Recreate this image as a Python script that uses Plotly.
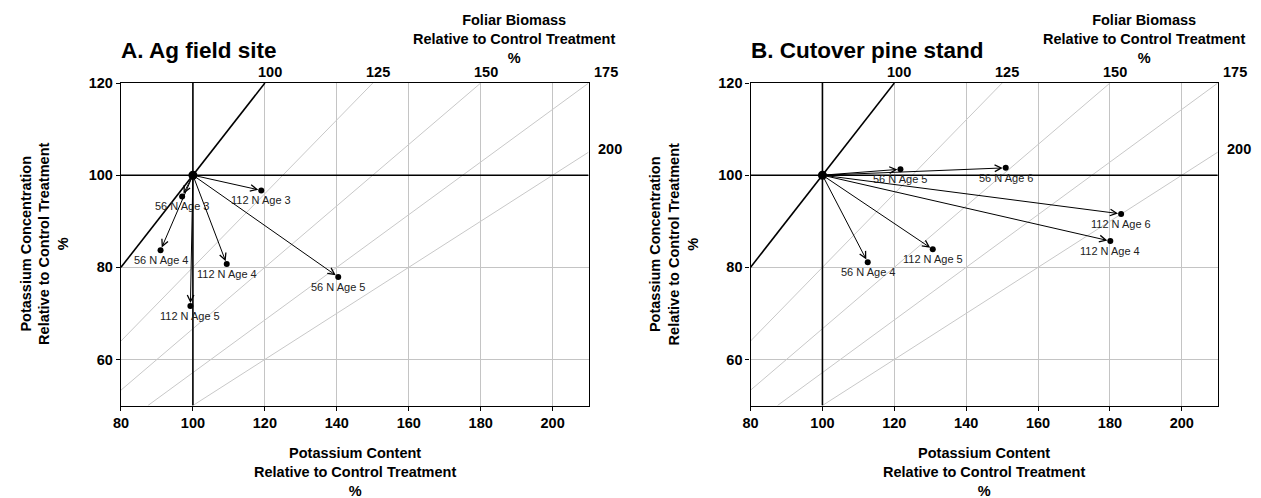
import plotly.graph_objects as go

# ---------------- data ----------------
CONTROL = 100
BIOMASS_LEVELS = [100, 125, 150, 175, 200]

A_labels = ["56 N Age 3", "112 N Age 3", "56 N Age 4", "112 N Age 4", "56 N Age 5", "112 N Age 5"]
A_content = [97.0, 119.0, 91.0, 109.4, 140.4, 99.3]
A_conc = [95.4, 96.7, 83.7, 80.7, 77.9, 71.6]

B_labels = ["56 N Age 4", "112 N Age 4", "56 N Age 5", "112 N Age 5", "56 N Age 6", "112 N Age 6"]
B_content = [112.6, 180.1, 121.7, 130.7, 151.0, 183.1]
B_conc = [81.1, 85.7, 101.3, 83.9, 101.6, 91.6]

X_TICKS = [80, 100, 120, 140, 160, 180, 200]
Y_TICKS = [60, 80, 100, 120]
X_RANGE = [80, 210]
Y_RANGE = [50, 120]

PANEL_TITLES = ["A. Ag field site", "B. Cutover pine stand"]

# ---------------- layout geometry ----------------
W, H = 1261, 498
FONT = "Arial, Liberation Sans, sans-serif"
xdomA = [113.7 / W, 584.3 / W]
xdomB = [747.3 / W, 1217.5 / W]
ydom = [1 - 404 / H, 1 - 76.3 / H]

fig = go.Figure()

panels = [
    ("x", "y", A_labels, A_content, A_conc, xdomA),
    ("x2", "y2", B_labels, B_content, B_conc, xdomB),
]

annotations = []


def iso_segment(B):
    # line: conc = 100 * content / B, clipped to the plot box
    k = 100.0 / B
    x0 = max(X_RANGE[0], Y_RANGE[0] / k)
    x1 = min(X_RANGE[1], Y_RANGE[1] / k)
    return [x0, x1], [k * x0, k * x1]


BOLD = dict(family=FONT, size=14.5, color="black", weight="bold")

for i, (xr, yr, labels, cx, cy, dom) in enumerate(panels):
    # biomass isolines
    for B in BIOMASS_LEVELS:
        xs, ys = iso_segment(B)
        if B == CONTROL:
            color, width = "black", 1.6
        else:
            color, width = "#c8c8c8", 1
        fig.add_trace(go.Scatter(x=xs, y=ys, mode="lines", xaxis=xr, yaxis=yr,
                                 line=dict(color=color, width=width),
                                 hoverinfo="skip", showlegend=False))
        # isoline label
        if xs[1] < X_RANGE[1] - 1e-9:
            annotations.append(dict(x=xs[1], y=ys[1], xref=xr, yref=yr, text=str(B),
                                    showarrow=False, xanchor="center", yanchor="bottom",
                                    xshift=5, yshift=1, font=BOLD))
        elif ys[1] >= Y_RANGE[1] - 1e-9:
            annotations.append(dict(x=xs[1], y=ys[1], xref=xr, yref=yr, text=str(B),
                                    showarrow=False, xanchor="left", yanchor="bottom",
                                    xshift=3, yshift=1, font=BOLD))
        else:
            annotations.append(dict(x=xs[1], y=ys[1], xref=xr, yref=yr, text=str(B),
                                    showarrow=False, xanchor="left", yanchor="middle",
                                    xshift=7, yshift=3, font=BOLD))

    # control reference lines
    fig.add_trace(go.Scatter(x=[CONTROL, CONTROL], y=Y_RANGE, mode="lines", xaxis=xr, yaxis=yr,
                             line=dict(color="black", width=1.6), hoverinfo="skip", showlegend=False))
    fig.add_trace(go.Scatter(x=X_RANGE, y=[CONTROL, CONTROL], mode="lines", xaxis=xr, yaxis=yr,
                             line=dict(color="black", width=1.6), hoverinfo="skip", showlegend=False))

    # arrows
    for lab, px, py in zip(labels, cx, cy):
        annotations.append(dict(x=px, y=py, ax=CONTROL, ay=CONTROL, xref=xr, yref=yr,
                                axref=xr, ayref=yr, text="", showarrow=True,
                                arrowhead=5, arrowsize=1.3, arrowwidth=1, arrowcolor="black",
                                standoff=3))
        annotations.append(dict(x=px, y=py, xref=xr, yref=yr, text=lab, showarrow=False,
                                xanchor="center", yanchor="middle", yshift=-10,
                                font=dict(family=FONT, size=11, color="#222222")))

    # points
    fig.add_trace(go.Scatter(x=cx, y=cy, mode="markers", xaxis=xr, yaxis=yr,
                             marker=dict(color="black", size=6), hoverinfo="skip", showlegend=False))
    fig.add_trace(go.Scatter(x=[CONTROL], y=[CONTROL], mode="markers", xaxis=xr, yaxis=yr,
                             marker=dict(color="black", size=9), hoverinfo="skip", showlegend=False))

    x0, x1 = dom
    xc = (x0 + x1) / 2
    # panel title
    annotations.append(dict(x=x0, y=1 - 43 / H, xref="paper", yref="paper", text=PANEL_TITLES[i],
                            showarrow=False, xanchor="left", yanchor="middle", xshift=-2,
                            font=dict(family=FONT, size=22.5, color="black", weight="bold")))
    # top (biomass) title
    annotations.append(dict(x=x0 + 395.8 / W, y=1 - 32 / H, xref="paper", yref="paper",
                            text="Foliar Biomass<br>Relative to Control Treatment<br>%",
                            showarrow=False, xanchor="center", yanchor="middle", font=BOLD))
    # x title
    annotations.append(dict(x=xc, y=1 - 472 / H, xref="paper", yref="paper",
                            text="Potassium Content<br>Relative to Control Treatment<br>%",
                            showarrow=False, xanchor="center", yanchor="middle", font=BOLD))
    # y title
    ytx = (37 if i == 0 else 670.5) / W
    annotations.append(dict(x=ytx, y=1 - 240 / H, xref="paper", yref="paper",
                            text="Potassium Concentration<br>Relative to Control Treatment<br>%",
                            showarrow=False, xanchor="center", yanchor="middle", textangle=-90,
                            font=BOLD))

axis_common = dict(showline=True, linecolor="black", linewidth=1.3, mirror=True,
                   ticks="outside", ticklen=4, tickwidth=1, tickcolor="black",
                   showgrid=True, gridcolor="#c4c4c4", gridwidth=1, zeroline=False,
                   tickfont=BOLD)

fig.update_layout(
    width=W, height=H,
    margin=dict(l=0, r=0, t=0, b=0, pad=0),
    paper_bgcolor="white", plot_bgcolor="white",
    showlegend=False,
    xaxis=dict(domain=xdomA, range=X_RANGE, tickvals=X_TICKS, anchor="y", **axis_common),
    yaxis=dict(domain=ydom, range=Y_RANGE, tickvals=Y_TICKS, anchor="x", **axis_common),
    xaxis2=dict(domain=xdomB, range=X_RANGE, tickvals=X_TICKS, anchor="y2", **axis_common),
    yaxis2=dict(domain=ydom, range=Y_RANGE, tickvals=Y_TICKS, anchor="x2", **axis_common),
    annotations=annotations,
)

fig.write_html("out.html",
               post_script="document.body.style.margin='0';document.body.style.overflow='hidden';")
